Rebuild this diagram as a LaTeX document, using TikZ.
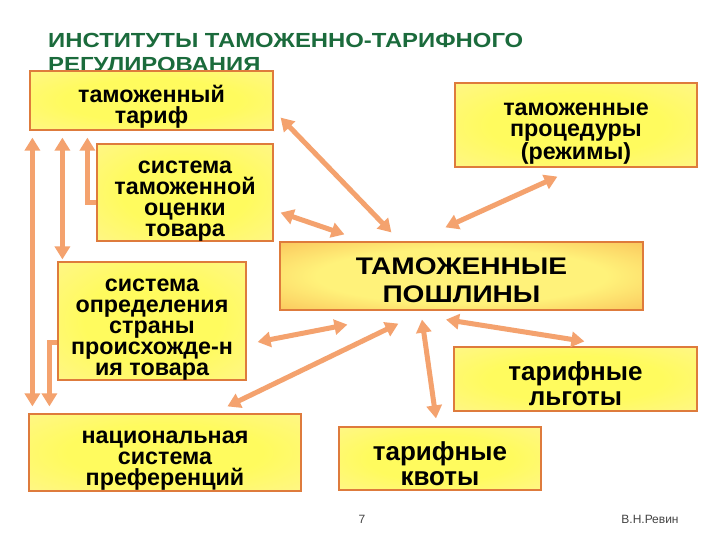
\documentclass[tikz,border=0pt]{standalone}
\usepackage{fontspec}
\setmainfont{Liberation Sans}
\newfontfamily\widefont{Liberation Sans}[FakeStretch=1.17]
\usetikzlibrary{arrows.meta,calc}
\definecolor{titlegreen}{HTML}{1B6B3C}
\definecolor{linkorange}{HTML}{F4A26E}
\definecolor{frame}{HTML}{DE7B3C}
\definecolor{boxin}{HTML}{FFFB5E}
\definecolor{boxout}{HTML}{FFF2A6}
\definecolor{dutyin}{HTML}{FFF27A}
\definecolor{dutyout}{HTML}{F7A043}
\definecolor{foot}{HTML}{444444}
\pgfdeclareradialshading{boxglow}{\pgfpoint{0bp}{0bp}}{color(0bp)=(boxin); color(18bp)=(boxin); color(50bp)=(boxout); color(72bp)=(boxout)}
\pgfdeclareradialshading{dutyglow}{\pgfpoint{0bp}{0bp}}{color(0bp)=(dutyin); color(20bp)=(dutyin); color(50bp)=(dutyout); color(72bp)=(dutyout)}
% strut that pushes the first line down a little
\newcommand{\firstgap}[1][1.25em]{\rule{0pt}{#1}}

\begin{document}
\begin{tikzpicture}[x=1pt,y=-1pt,
  inst/.style={draw=frame,line width=1.2pt,shade,shading=boxglow,align=center,inner sep=0pt,
    font=\fontsize{23.3}{21}\selectfont\bfseries},
  instbig/.style={inst,font=\fontsize{26}{25}\selectfont\bfseries},
  duty/.style={inst,shading=dutyglow,font=\widefont\fontsize{24}{28}\selectfont\bfseries},
  rel/.style={linkorange,line width=5pt,{Triangle[length=13pt,width=15pt]}-{Triangle[length=13pt,width=15pt]}},
  relone/.style={linkorange,line width=5pt,-{Triangle[length=13pt,width=15pt]}}]
  \useasboundingbox[fill=white] (0,0) rectangle (720,540);

  % Title
  \node[anchor=north west,align=left,inner sep=0pt,text=titlegreen,
    font=\widefont\fontsize{20.4}{24}\selectfont\bfseries] (title) at (48,33)
    {ИНСТИТУТЫ ТАМОЖЕННО-ТАРИФНОГО\\РЕГУЛИРОВАНИЯ};

  % Boxes
  \node[inst,minimum width=243,minimum height=59] (tarif) at (151.5,100.5) {\firstgap таможенный\\тариф};
  \node[inst,minimum width=242,minimum height=84] (proc) at (576,125) {\firstgap таможенные\\процедуры\\(режимы)};
  \node[inst,minimum width=176,minimum height=97] (ocenka) at (185,192.5) {\firstgap система\\таможенной\\оценки\\товара};
  \node[duty,minimum width=363,minimum height=68] (poshl) at (461.5,276) {\firstgap[1.05em]ТАМОЖЕННЫЕ\\ПОШЛИНЫ};
  \node[inst,minimum width=188,minimum height=116] (proish) at (152,321) {\firstgap система\\определения\\страны\\происхожде-н\\ия товара};
  \node[instbig,minimum width=243,minimum height=64] (lgoty) at (575.5,379) {\firstgap[1.1em]тарифные\\льготы};
  \node[inst,minimum width=272,minimum height=77] (pref) at (165,452.5) {\firstgap национальная\\система\\преференций};
  \node[instbig,minimum width=202,minimum height=63] (kvoty) at (440,458.5) {\firstgap[1.1em]тарифные\\квоты};

  % Links to the duties
  \draw[rel] ($(tarif.south east)+(7,-13)$) -- ($(poshl.north west)+(112,-9)$);
  \draw[rel] ($(ocenka.south east)+(7,-29)$) -- ($(poshl.north west)+(65,-7)$);
  \draw[rel] ($(proc.south west)+(103,9)$) -- ($(poshl.north west)+(166,-14)$);
  \draw[rel] ($(proish.east)+(11,21)$) -- ($(poshl.south west)+(68,14)$);
  \draw[rel] ($(pref.north west)+(199,-7)$) -- ($(poshl.south west)+(119,13)$);
  \draw[rel] ($(kvoty.north)+(-4,-8)$) -- ($(poshl.south)+(-39.5,9)$);
  \draw[rel] ($(lgoty.north west)+(131,-5)$) -- ($(poshl.south)+(-15.5,9)$);

  % Left: links along the tariff
  \draw[rel] ($(tarif.south west)+(3,7)$) -- ($(pref.north west)+(4,-7)$);
  \draw[rel] ($(tarif.south west)+(33,7)$) -- ($(proish.north west)+(5,-2)$);
  \draw[relone] ($(ocenka.west)+(0,10.5)$) -| ($(tarif.south west)+(58,7)$);
  \draw[relone] ($(proish.west)+(0,21)$) -| ($(pref.north west)+(21,-7)$);

  % Footer
  \node[font=\fontsize{12}{14}\selectfont,text=foot] (page) at (362,519) {7};
  \node[font=\fontsize{12}{14}\selectfont,text=foot] (author) at (650,519) {В.Н.Ревин};
\end{tikzpicture}
\end{document}
